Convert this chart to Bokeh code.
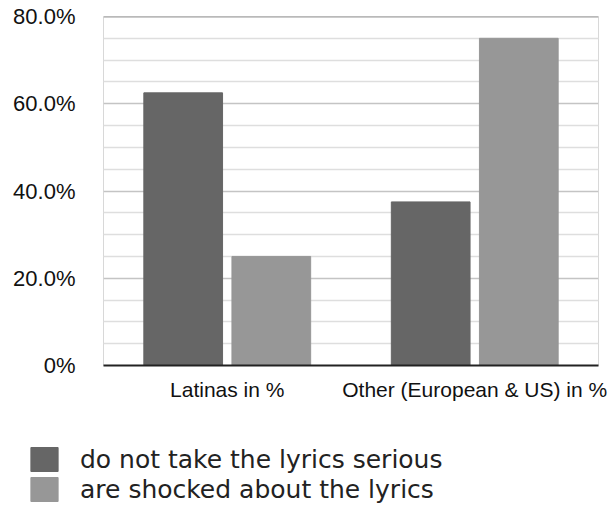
from bokeh.plotting import figure
from bokeh.layouts import column
from bokeh.models import (FactorRange, Range1d, Legend, LegendItem, FixedTicker,
                          ColumnDataSource, Span)
from bokeh.transform import dodge
from bokeh.embed import file_html
from bokeh.resources import INLINE

categories = ["Latinas in %", "Other (European & US) in %"]
not_serious = [62.5, 37.5]
shocked = [25.0, 75.0]
series_names = ["do not take the lyrics serious", "are shocked about the lyrics"]
series_colors = ["#666666", "#979797"]
y_ticks = [0, 20, 40, 60, 80]
y_minor = [5, 10, 15, 25, 30, 35, 45, 50, 55, 65, 70, 75]
y_tick_labels = ["0%", "20.0%", "40.0%", "60.0%", "80.0%"]

source = ColumnDataSource(dict(cat=categories, a=not_serious, b=shocked))

MAIN_H = 420
LEG_H = 511 - MAIN_H

p = figure(width=613, height=MAIN_H, output_backend="svg", toolbar_location=None,
           x_range=FactorRange(factors=categories, range_padding=0),
           y_range=Range1d(0, 80),
           min_border_left=103, min_border_top=16, min_border_right=15,
           min_border_bottom=MAIN_H - 365)
p.frame_align = False

r1 = p.vbar(x=dodge("cat", -0.178, range=p.x_range), top="a", width=0.318,
            source=source, fill_color=series_colors[0], line_color=series_colors[0])
r2 = p.vbar(x=dodge("cat", 0.178, range=p.x_range), top="b", width=0.318,
            source=source, fill_color=series_colors[1], line_color=series_colors[1])

# grid
p.xgrid.grid_line_color = None
p.yaxis.ticker = FixedTicker(ticks=y_ticks, minor_ticks=y_minor)
p.ygrid.grid_line_color = "#c4c4c4"
p.ygrid.grid_line_width = 1.5
p.ygrid.minor_grid_line_color = "#dedede"
p.ygrid.minor_grid_line_width = 1.5
p.ygrid.level = "underlay"
p.outline_line_color = "#d8d8d8"
p.add_layout(Span(location=80, dimension="width", line_color="#9a9a9a", line_width=2))

# y axis
p.yaxis.major_label_overrides = {t: l for t, l in zip(y_ticks, y_tick_labels)}
p.yaxis.axis_line_color = None
p.yaxis.major_tick_line_color = None
p.yaxis.minor_tick_line_color = None
p.yaxis.major_tick_out = 0
p.yaxis.minor_tick_out = 0
p.yaxis.major_label_standoff = 28
p.yaxis.major_label_text_font = "Liberation Sans"
p.yaxis.major_label_text_font_size = "22px"
p.yaxis.major_label_text_color = "#111111"

# x axis
p.xaxis.axis_line_color = "#222222"
p.xaxis.axis_line_width = 2
p.xaxis.major_tick_line_color = None
p.xaxis.minor_tick_line_color = None
p.xaxis.major_tick_out = 0
p.xaxis.major_label_standoff = 12
p.xaxis.major_label_text_font = "Liberation Sans"
p.xaxis.major_label_text_font_size = "21px"
p.xaxis.major_label_text_color = "#111111"

# legend figure
lf = figure(width=613, height=LEG_H, output_backend="svg", toolbar_location=None,
            x_range=Range1d(0, 1), y_range=Range1d(0, 1),
            x_axis_type=None, y_axis_type=None,
            min_border=0, min_border_left=0, min_border_right=0,
            min_border_top=0, min_border_bottom=0)
lf.frame_align = False
lf.outline_line_color = None
lf.xgrid.grid_line_color = None
lf.ygrid.grid_line_color = None
offscreen = ColumnDataSource(dict(x=[10], top=[10], bottom=[9]))
l1 = lf.vbar(x="x", top="top", bottom="bottom", width=0.1, source=offscreen,
             fill_color=series_colors[0], line_color=series_colors[0])
l2 = lf.vbar(x="x", top="top", bottom="bottom", width=0.1, source=offscreen,
             fill_color=series_colors[1], line_color=series_colors[1])

legend = Legend(items=[LegendItem(label=series_names[0], renderers=[l1]),
                       LegendItem(label=series_names[1], renderers=[l2])],
                location=(27, 7), border_line_color=None,
                background_fill_alpha=0, padding=0, margin=0,
                glyph_width=34, glyph_height=30, label_standoff=19, spacing=0,
                label_height=30,
                label_text_font="DejaVu Sans", label_text_font_size="25px",
                label_text_color="#222222")
lf.add_layout(legend)

layout = column(p, lf, spacing=0)
open("out.html", "w").write(file_html(layout, INLINE))
